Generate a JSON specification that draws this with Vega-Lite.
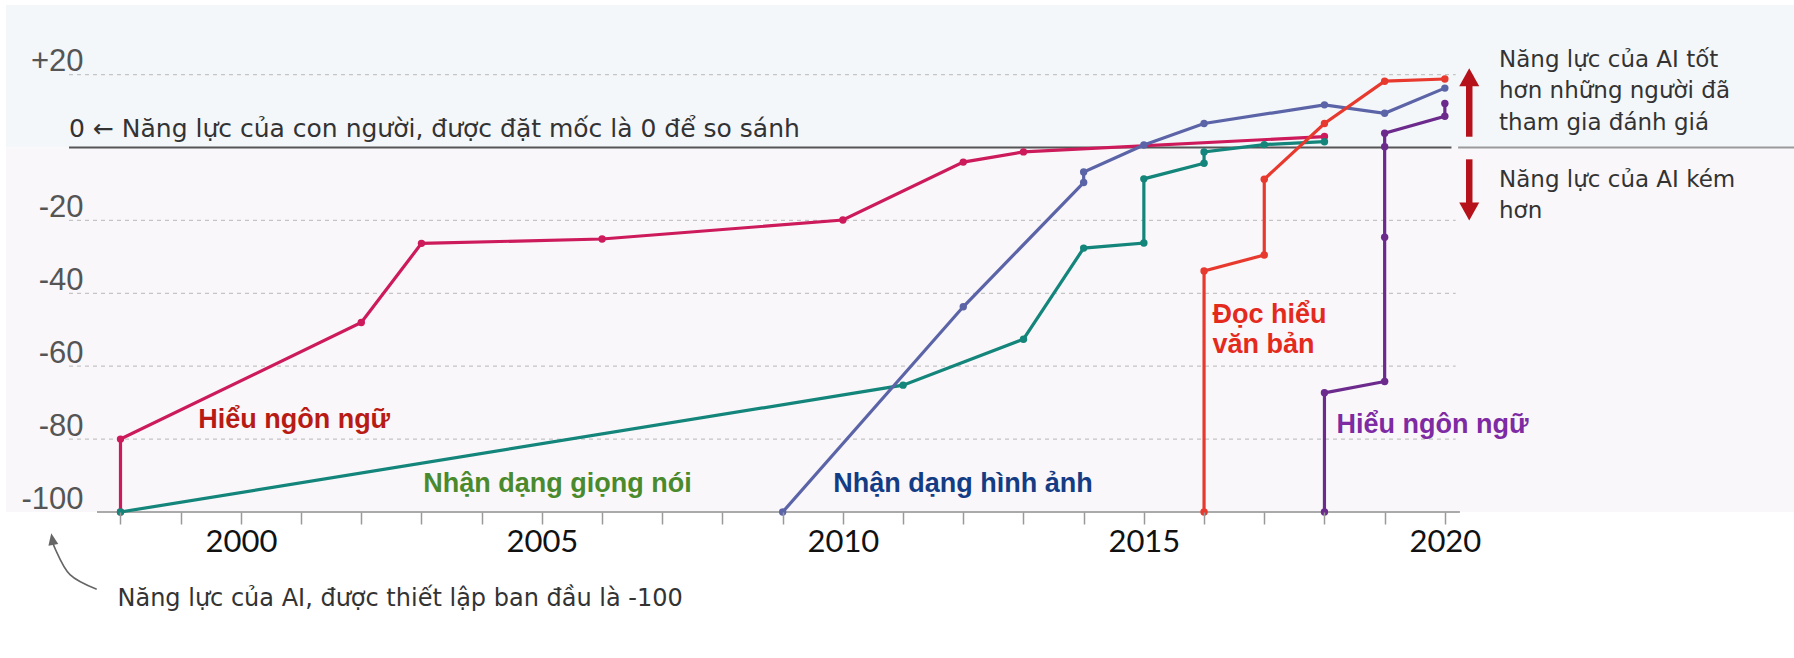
{
  "$schema": "https://vega.github.io/schema/vega-lite/v6.json",
  "width": 1788,
  "height": 507,
  "autosize": {"type": "none"},
  "padding": {"left": 6, "top": 5, "right": 0, "bottom": 146},
  "background": "white",
  "config": {"view": {"stroke": null}},
  "datasets": {
    "one": [{}],
    "series": [
      {"s": "lang1", "i": 0, "year": 1998, "value": -100},
      {"s": "lang1", "i": 1, "year": 1998, "value": -80},
      {"s": "lang1", "i": 2, "year": 2002, "value": -48},
      {"s": "lang1", "i": 3, "year": 2003, "value": -26.3},
      {"s": "lang1", "i": 4, "year": 2006, "value": -25.1},
      {"s": "lang1", "i": 5, "year": 2010, "value": -19.9},
      {"s": "lang1", "i": 6, "year": 2012, "value": -4},
      {"s": "lang1", "i": 7, "year": 2013, "value": -1.2},
      {"s": "lang1", "i": 8, "year": 2018, "value": 3},
      {"s": "speech", "i": 0, "year": 1998, "value": -100},
      {"s": "speech", "i": 1, "year": 2011, "value": -65.2},
      {"s": "speech", "i": 2, "year": 2013, "value": -52.6},
      {"s": "speech", "i": 3, "year": 2014, "value": -27.6},
      {"s": "speech", "i": 4, "year": 2015, "value": -26.2},
      {"s": "speech", "i": 5, "year": 2015, "value": -8.6},
      {"s": "speech", "i": 6, "year": 2016, "value": -4.3},
      {"s": "speech", "i": 7, "year": 2016, "value": -1.2},
      {"s": "speech", "i": 8, "year": 2017, "value": 0.8},
      {"s": "speech", "i": 9, "year": 2018, "value": 1.6},
      {"s": "image", "i": 0, "year": 2009, "value": -100},
      {"s": "image", "i": 1, "year": 2012, "value": -43.7},
      {"s": "image", "i": 2, "year": 2014, "value": -9.6},
      {"s": "image", "i": 3, "year": 2014, "value": -6.7},
      {"s": "image", "i": 4, "year": 2015, "value": 0.7},
      {"s": "image", "i": 5, "year": 2016, "value": 6.6},
      {"s": "image", "i": 6, "year": 2018, "value": 11.7},
      {"s": "image", "i": 7, "year": 2019, "value": 9.4},
      {"s": "image", "i": 8, "year": 2020, "value": 16.3},
      {"s": "reading", "i": 0, "year": 2016, "value": -100},
      {"s": "reading", "i": 1, "year": 2016, "value": -33.9},
      {"s": "reading", "i": 2, "year": 2017, "value": -29.5},
      {"s": "reading", "i": 3, "year": 2017, "value": -8.7},
      {"s": "reading", "i": 4, "year": 2018, "value": 6.6},
      {"s": "reading", "i": 5, "year": 2019, "value": 18.2},
      {"s": "reading", "i": 6, "year": 2020, "value": 18.8},
      {"s": "lang2", "i": 0, "year": 2018, "value": -100},
      {"s": "lang2", "i": 1, "year": 2018, "value": -67.3},
      {"s": "lang2", "i": 2, "year": 2019, "value": -64.2},
      {"s": "lang2", "i": 3, "year": 2019, "value": -24.6},
      {"s": "lang2", "i": 4, "year": 2019, "value": 0.2},
      {"s": "lang2", "i": 5, "year": 2019, "value": 3.9},
      {"s": "lang2", "i": 6, "year": 2020, "value": 8.6},
      {"s": "lang2", "i": 7, "year": 2020, "value": 12.1}
    ],
    "labels": [
      {"s": "t_lang1", "text": ["Hiểu ngôn ngữ"], "year": 1999.29, "value": -77.0},
      {"s": "t_speech", "text": ["Nhận dạng giọng nói"], "year": 2003.03, "value": -94.4},
      {"s": "t_image", "text": ["Nhận dạng hình ảnh"], "year": 2009.84, "value": -94.4},
      {"s": "t_reading", "text": ["Đọc hiểu", "văn bản"], "year": 2016.14, "value": -48.2},
      {"s": "t_lang2", "text": ["Hiểu ngôn ngữ"], "year": 2018.2, "value": -78.4}
    ],
    "notes": [
      {"k": "zero", "text": ["0 ← Năng lực của con người, được đặt mốc là 0 để so sánh"], "year": 1997.145, "value": 3.0},
      {"k": "side", "text": ["Năng lực của AI tốt", "hơn những người đã", "tham gia đánh giá"], "year": 2020.9, "value": 22.2},
      {"k": "side", "text": ["Năng lực của AI kém", "hơn"], "year": 2020.9, "value": -10.75},
      {"k": "base", "text": ["Năng lực của AI, được thiết lập ban đầu là -100"], "year": 1997.95, "value": -125.8}
    ],
    "grid": [{"g": 20}, {"g": -20}, {"g": -40}, {"g": -60}, {"g": -80}],
    "curve": [
      {"i": 0, "year": 1997.605, "value": -121.2},
      {"i": 1, "year": 1997.161, "value": -117.2},
      {"i": 2, "year": 1996.912, "value": -110.0},
      {"i": 3, "year": 1996.874, "value": -107.2}
    ]
  },
  "layer": [
    {
      "data": {"name": "one"},
      "mark": {"type": "rect", "color": "#f4f7fa"},
      "encoding": {"y": {"datum": 0}, "y2": {"datum": 39.1}}
    },
    {
      "data": {"name": "one"},
      "mark": {"type": "rect", "color": "#f9f7fa"},
      "encoding": {"y": {"datum": -100}, "y2": {"datum": 0}}
    },
    {
      "data": {"name": "grid"},
      "mark": {"type": "rule", "color": "#c4c4c4", "strokeWidth": 1.2, "strokeDash": [4, 4]},
      "encoding": {
        "y": {"field": "g", "type": "quantitative"},
        "x": {"datum": 1997.145},
        "x2": {"datum": 2020.18}
      }
    },
    {
      "data": {"name": "one"},
      "mark": {"type": "rule", "color": "#555555", "strokeWidth": 2.2},
      "encoding": {"y": {"datum": 0}, "x": {"datum": 1997.145}, "x2": {"datum": 2020.11}}
    },
    {
      "data": {"name": "one"},
      "mark": {"type": "rule", "color": "#9a9a9a", "strokeWidth": 2},
      "encoding": {"y": {"datum": 0}, "x": {"datum": 2020.22}, "x2": {"datum": 2025.8}}
    },
    {
      "data": {"name": "one"},
      "mark": {"type": "rule", "color": "#aaaaaa", "strokeWidth": 2},
      "encoding": {"y": {"datum": -100}, "x": {"datum": 1997.61}, "x2": {"datum": 2020.25}}
    },
    {
      "data": {"name": "series"},
      "mark": {"type": "line", "strokeWidth": 3.2},
      "encoding": {
        "x": {
          "field": "year", "type": "quantitative",
          "scale": {"domain": [1996.098, 2025.8], "nice": false, "zero": false},
          "axis": {
            "values": [1998,1999,2000,2001,2002,2003,2004,2005,2006,2007,2008,2009,2010,2011,2012,2013,2014,2015,2016,2017,2018,2019,2020],
            "labelExpr": "datum.value % 5 == 0 ? datum.value : ''",
            "domain": false, "grid": false, "zindex": 1,
            "tickColor": "#999999", "tickSize": 12, "tickWidth": 1.5,
            "labelFont": "Lato", "labelFontSize": 31, "labelColor": "#111111",
            "labelPadding": 3, "title": null, "labelFlush": false, "labelOverlap": false
          }
        },
        "y": {
          "field": "value", "type": "quantitative",
          "scale": {"domain": [-100, 39.1], "nice": false, "zero": false},
          "axis": {
            "values": [20, -20, -40, -60, -80, -100],
            "labelExpr": "datum.value > 0 ? '+' + datum.value : '' + datum.value",
            "domain": false, "ticks": false, "grid": false, "zindex": 1,
            "offset": -77, "labelPadding": 0, "labelAlign": "right",
            "labelBaseline": "alphabetic", "labelOffset": -4,
            "labelFont": "Liberation Sans", "labelFontSize": 31, "labelColor": "#555555",
            "title": null, "labelFlush": false, "labelOverlap": false
          }
        },
        "color": {
          "field": "s", "type": "nominal", "legend": null,
          "scale": {
            "domain": ["lang1", "speech", "image", "reading", "lang2", "t_lang1", "t_speech", "t_image", "t_reading", "t_lang2"],
            "range": ["#cc1a5a", "#13857a", "#5c64a8", "#e8392e", "#6b2a8c", "#b81b14", "#4a8a2c", "#143c84", "#e42a1c", "#7d2aa3"]
          }
        },
        "order": {"field": "i", "type": "quantitative"}
      }
    },
    {
      "data": {"name": "series"},
      "mark": {"type": "point", "filled": true, "size": 55, "opacity": 1},
      "encoding": {
        "x": {"field": "year", "type": "quantitative"},
        "y": {"field": "value", "type": "quantitative"},
        "color": {"field": "s", "type": "nominal", "legend": null}
      }
    },
    {
      "data": {"name": "labels"},
      "mark": {"type": "text", "align": "left", "baseline": "alphabetic", "font": "Liberation Sans", "fontWeight": "bold", "fontSize": 27, "lineHeight": 30},
      "encoding": {
        "x": {"field": "year", "type": "quantitative"},
        "y": {"field": "value", "type": "quantitative"},
        "text": {"field": "text"},
        "color": {"field": "s", "type": "nominal", "legend": null}
      }
    },
    {
      "data": {"name": "notes"},
      "transform": [{"filter": "datum.k == 'zero'"}],
      "mark": {"type": "text", "align": "left", "baseline": "alphabetic", "font": "DejaVu Sans", "fontSize": 25, "color": "#333333"},
      "encoding": {
        "x": {"field": "year", "type": "quantitative"},
        "y": {"field": "value", "type": "quantitative"},
        "text": {"field": "text"}
      }
    },
    {
      "data": {"name": "notes"},
      "transform": [{"filter": "datum.k == 'side'"}],
      "mark": {"type": "text", "align": "left", "baseline": "alphabetic", "font": "DejaVu Sans", "fontSize": 23, "lineHeight": 31.7, "color": "#333333"},
      "encoding": {
        "x": {"field": "year", "type": "quantitative"},
        "y": {"field": "value", "type": "quantitative"},
        "text": {"field": "text"}
      }
    },
    {
      "data": {"name": "notes"},
      "transform": [{"filter": "datum.k == 'base'"}],
      "mark": {"type": "text", "align": "left", "baseline": "alphabetic", "font": "DejaVu Sans", "fontSize": 24, "color": "#333333"},
      "encoding": {
        "x": {"field": "year", "type": "quantitative"},
        "y": {"field": "value", "type": "quantitative"},
        "text": {"field": "text"}
      }
    },
    {
      "data": {"name": "one"},
      "mark": {"type": "rule", "color": "#b5121b", "strokeWidth": 6.5},
      "encoding": {"x": {"datum": 2020.405}, "y": {"datum": 2.96}, "y2": {"datum": 18.0}}
    },
    {
      "data": {"name": "one"},
      "mark": {"type": "point", "filled": true, "opacity": 1, "color": "#b5121b", "size": 400, "shape": "M-1,0.8L1,0.8L0,-1Z"},
      "encoding": {"x": {"datum": 2020.405}, "y": {"datum": 19.0}}
    },
    {
      "data": {"name": "one"},
      "mark": {"type": "rule", "color": "#b5121b", "strokeWidth": 6.5},
      "encoding": {"x": {"datum": 2020.405}, "y": {"datum": -3.24}, "y2": {"datum": -16.0}}
    },
    {
      "data": {"name": "one"},
      "mark": {"type": "point", "filled": true, "opacity": 1, "color": "#b5121b", "size": 400, "shape": "M-1,-0.8L1,-0.8L0,1Z"},
      "encoding": {"x": {"datum": 2020.405}, "y": {"datum": -17.3}}
    },
    {
      "data": {"name": "curve"},
      "mark": {"type": "line", "color": "#666666", "strokeWidth": 1.6, "interpolate": "cardinal"},
      "encoding": {
        "x": {"field": "year", "type": "quantitative"},
        "y": {"field": "value", "type": "quantitative"},
        "order": {"field": "i", "type": "quantitative"}
      }
    },
    {
      "data": {"name": "one"},
      "mark": {"type": "point", "filled": true, "opacity": 1, "color": "#666666", "size": 100, "angle": -10, "shape": "M-1,1L1,1L0,-1.4Z"},
      "encoding": {"x": {"datum": 1996.87}, "y": {"datum": -107.7}}
    }
  ]
}
